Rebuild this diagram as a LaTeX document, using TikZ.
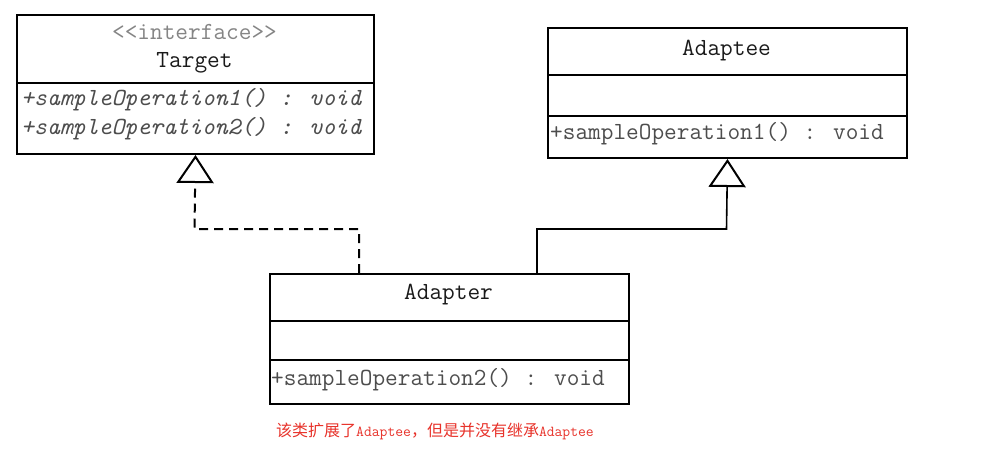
\documentclass[tikz,border=0pt]{standalone}
\usepackage{fontspec}
\newfontfamily\mono{Latin Modern Mono}
\newfontfamily\cjk{Noto Sans CJK SC}
\usetikzlibrary{arrows.meta}
\definecolor{titlec}{HTML}{1A1A1A}
\definecolor{opc}{HTML}{4D4D4D}
\definecolor{ifc}{HTML}{858585}
\definecolor{redc}{HTML}{E8332B}
\begin{document}
\begin{tikzpicture}[x=1pt,y=-1pt,
  umlbox/.style={draw=black,line width=2pt,fill=white,anchor=north west,inner sep=0pt},
  sep/.style={line width=2pt},
  title/.style={font=\mono\fontsize{24.6pt}{27pt}\selectfont,text=titlec,inner sep=0pt},
  op/.style={font=\mono\fontsize{24.6pt}{27pt}\selectfont,text=opc,inner sep=0pt,anchor=west},
  iop/.style={font=\mono\itshape\fontsize{24.6pt}{27pt}\selectfont,text=opc,inner sep=0pt,anchor=west},
  realize/.style={line width=1.6pt,-{Triangle[open,length=28pt,width=37pt,line width=2pt]}},
  note/.style={text=redc,inner sep=0pt}
]
\useasboundingbox[fill=white] (0,0) rectangle (984,451);

% Target
\node[umlbox,minimum width=357pt,minimum height=139pt] (target) at (16,14) {};
\draw[sep] (16,83) -- (373,83);
\node[title,text=ifc] (tif) at (194.5,32) {<<interface>>};
\node[title] (tname) at (194.5,63) {Target};
\node[iop] (top1) at (21,100) {+sampleOperation1() : void};
\node[iop] (top2) at (21,129) {+sampleOperation2() : void};

% Adaptee
\node[umlbox,minimum width=359pt,minimum height=130pt] (adaptee) at (547,27) {};
\draw[sep] (547,75) -- (906,75);
\draw[sep] (547,116) -- (906,116);
\node[title] (aname) at (726.5,51) {Adaptee};
\node[op] (aop) at (550,134) {+sampleOperation1() : void};

% Adapter
\node[umlbox,minimum width=359pt,minimum height=130pt] (adapter) at (269,273) {};
\draw[sep] (269,321) -- (628,321);
\draw[sep] (269,360) -- (628,360);
\node[title] (dname) at (448.5,295) {Adapter};
\node[op] (dop) at (271,380) {+sampleOperation2() : void};

% connectors
\coordinate (bendL) at (194.5,229);
\coordinate (bendR) at (726.5,229);
\draw[realize,line width=2pt,dash pattern=on 9pt off 6pt] ([xshift=90pt]adapter.north west) |- (bendL) -- (target.south);
\draw[realize] ([xshift=268pt]adapter.north west) |- (bendR) -- (adaptee.south);

% note
\node[note,anchor=west] (note) at (276,431) {\cjk\fontsize{16pt}{18pt}\selectfont 该类扩展了{\mono\fontsize{15.2pt}{16pt}\selectfont Adaptee}，但是并没有继承{\mono\fontsize{15.2pt}{16pt}\selectfont Adaptee}};
\end{tikzpicture}
\end{document}
